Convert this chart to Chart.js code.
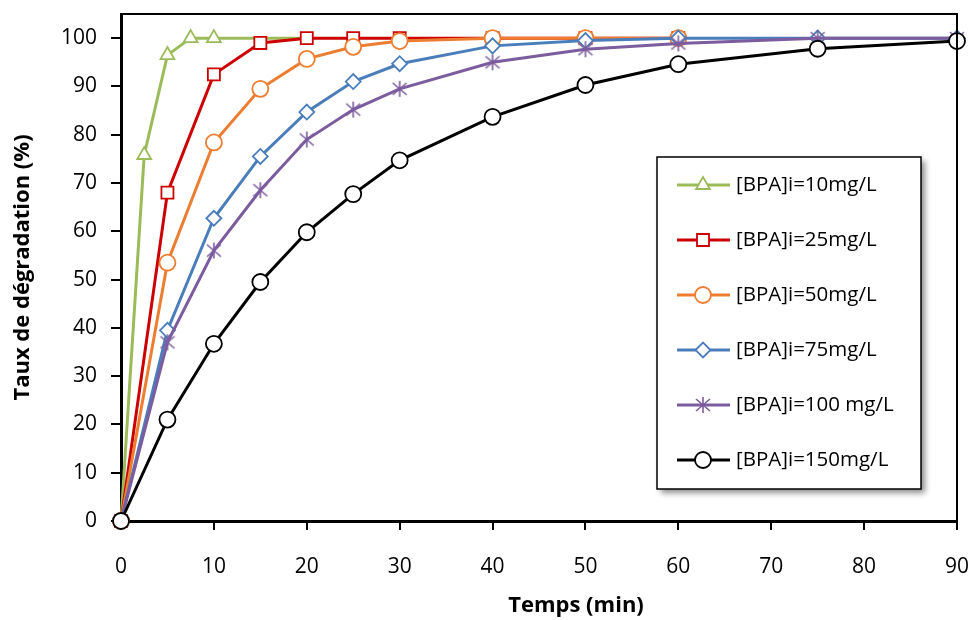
<!DOCTYPE html>
<html>
<head>
<meta charset="utf-8">
<script src="https://cdn.jsdelivr.net/npm/chart.js@4.4.1/dist/chart.umd.min.js"></script>
<style>
  body { margin: 0; background: #fff; }
  #wrap { width: 970px; height: 620px; }
</style>
</head>
<body>
<div id="wrap"><canvas id="myChart" width="970" height="620"></canvas></div>
<script>
// series data
var labels = ['[BPA]i=10mg/L', '[BPA]i=25mg/L', '[BPA]i=50mg/L', '[BPA]i=75mg/L', '[BPA]i=100 mg/L', '[BPA]i=150mg/L'];
var t10 = [0, 2.5, 5, 7.5, 10, 15, 20];
var y10 = [0, 75.8, 96.5, 100, 100, 100, 100];
var t25 = [0, 5, 10, 15, 20, 25, 30, 40, 50, 60];
var y25 = [0, 68, 92.5, 99, 100, 100, 100, 100, 100, 100];
var t50 = [0, 5, 10, 15, 20, 25, 30, 40, 50, 60];
var y50 = [0, 53.5, 78.4, 89.5, 95.7, 98.2, 99.4, 100, 100, 100];
var t75 = [0, 5, 10, 15, 20, 25, 30, 40, 50, 60, 75, 90];
var y75 = [0, 39.5, 62.7, 75.5, 84.7, 91, 94.7, 98.4, 99.5, 100, 100, 100];
var t100 = [0, 5, 10, 15, 20, 25, 30, 40, 50, 60, 75, 90];
var y100 = [0, 37, 56, 68.5, 79, 85.2, 89.5, 95, 97.7, 98.9, 100, 100];
var t150 = [0, 5, 10, 15, 20, 25, 30, 40, 50, 60, 75, 90];
var y150 = [0, 21, 36.7, 49.5, 59.8, 67.7, 74.7, 83.7, 90.3, 94.6, 97.8, 99.4];
var xTicks = [0, 10, 20, 30, 40, 50, 60, 70, 80, 90];
var yTicks = [0, 10, 20, 30, 40, 50, 60, 70, 80, 90, 100];
var xTitle = 'Temps (min)';
var yTitle = 'Taux de dégradation (%)';

var colors = ['#9BBB59', '#CC0000', '#ED7D31', '#4A7EBB', '#7B5C9E', '#000000'];

function pts(t, y) {
  return t.map(function (v, i) { return { x: v, y: y[i] }; });
}

// asterisk marker (x with a vertical bar)
function makeStar(col) {
  var c = document.createElement('canvas');
  c.width = 18; c.height = 18;
  var g = c.getContext('2d');
  g.strokeStyle = col;
  g.lineWidth = 1.6;
  g.beginPath();
  g.moveTo(9, 1); g.lineTo(9, 17);
  g.moveTo(2, 3); g.lineTo(16, 15);
  g.moveTo(16, 3); g.lineTo(2, 15);
  g.stroke();
  return c;
}
var starImg = makeStar(colors[4]);

var styles = [
  { pointStyle: 'triangle', radius: 8 },
  { pointStyle: 'rect', radius: 8.5 },
  { pointStyle: 'circle', radius: 8 },
  { pointStyle: 'rectRot', radius: 7.5 },
  { pointStyle: starImg, radius: 8 },
  { pointStyle: 'circle', radius: 8 }
];

var series = [pts(t10, y10), pts(t25, y25), pts(t50, y50), pts(t75, y75), pts(t100, y100), pts(t150, y150)];

var datasets = series.map(function (d, i) {
  return {
    label: labels[i],
    data: d,
    borderColor: colors[i],
    backgroundColor: '#ffffff',
    borderWidth: 3,
    pointStyle: styles[i].pointStyle,
    pointRadius: i === 0 ? function (c) { return c.raw && c.raw.x > 10 ? 0 : styles[0].radius; } : styles[i].radius,
    pointBorderWidth: 1.8,
    pointBackgroundColor: '#ffffff',
    pointBorderColor: colors[i],
    tension: 0,
    clip: false,
    order: series.length - i  // later series on top, like the original
  };
});

var framePlugin = {
  id: 'frameAndLegend',
  afterDraw: function (chart) {
    var ctx = chart.ctx, a = chart.chartArea;
    ctx.save();
    // top and right border of the plot
    ctx.strokeStyle = '#000';
    ctx.lineWidth = 2;
    ctx.beginPath();
    ctx.moveTo(a.left, a.top);
    ctx.lineTo(a.right, a.top);
    ctx.lineTo(a.right, a.bottom);
    ctx.stroke();

    // x title sits a bit right of centre in the original
    ctx.fillStyle = '#000';
    ctx.font = 'bold 22px "Open Sans"';
    ctx.textAlign = 'center';
    ctx.textBaseline = 'middle';
    ctx.fillText(xTitle, 576, 606);

    // legend box with soft shadow
    var bx = 657, by = 157, bw = 264, bh = 332;
    ctx.save();
    ctx.shadowColor = 'rgba(0,0,0,0.45)';
    ctx.shadowBlur = 6;
    ctx.shadowOffsetX = 4;
    ctx.shadowOffsetY = 4;
    ctx.fillStyle = '#fff';
    ctx.fillRect(bx, by, bw, bh);
    ctx.restore();
    ctx.strokeStyle = '#000';
    ctx.lineWidth = 1.5;
    ctx.strokeRect(bx, by, bw, bh);

    ctx.font = '20.5px "Open Sans"';
    ctx.textBaseline = 'middle';
    ctx.textAlign = 'left';
    for (var i = 0; i < labels.length; i++) {
      var ly = 185 + i * 55;
      ctx.strokeStyle = colors[i];
      ctx.lineWidth = 3;
      ctx.beginPath();
      ctx.moveTo(677, ly);
      ctx.lineTo(730, ly);
      ctx.stroke();
      ctx.fillStyle = '#fff';
      ctx.strokeStyle = colors[i];
      ctx.lineWidth = 1.8;
      Chart.helpers.drawPoint(ctx, { pointStyle: styles[i].pointStyle, radius: styles[i].radius, rotation: 0, borderWidth: 1.8 }, 703, ly);
      ctx.fillStyle = '#000';
      ctx.fillText(labels[i], 736, ly);
    }
    ctx.restore();
  }
};

var ctx = document.getElementById('myChart').getContext('2d');
var chart = new Chart(ctx, {
  type: 'line',
  data: { datasets: datasets },
  options: {
    responsive: false,
    animation: false,
    layout: { padding: { left: 10, right: 13, top: 14, bottom: 2 } },
    plugins: { legend: { display: false }, tooltip: { enabled: false } },
    scales: {
      x: {
        type: 'linear',
        min: 0, max: 90,
        afterBuildTicks: function (s) { s.ticks = xTicks.map(function (v) { return { value: v }; }); },
        afterFit: function (s) { s.height = 97; s.paddingRight = 0; s.paddingLeft = 0; },
        border: { display: true, color: '#000', width: 3 },
        grid: { drawOnChartArea: false, color: '#000', lineWidth: 2, tickLength: 9 },
        ticks: { color: '#000', font: { family: 'Open Sans', size: 21 }, padding: 24, maxRotation: 0 },
        title: { display: false }
      },
      y: {
        min: 0, max: 105,
        afterBuildTicks: function (s) { s.ticks = yTicks.map(function (v) { return { value: v }; }); },
        afterFit: function (s) { s.width = 111; s.paddingTop = 0; s.paddingBottom = 0; },
        border: { display: true, color: '#000', width: 3 },
        grid: { drawOnChartArea: false, color: '#000', lineWidth: 2, tickLength: 10 },
        ticks: { color: '#000', font: { family: 'Open Sans', size: 21 }, padding: 14 },
        title: { display: true, text: yTitle, color: '#000', font: { family: 'Open Sans', size: 22, weight: 'bold' }, padding: 0 }
      }
    }
  },
  plugins: [framePlugin]
});
</script>
</body>
</html>
